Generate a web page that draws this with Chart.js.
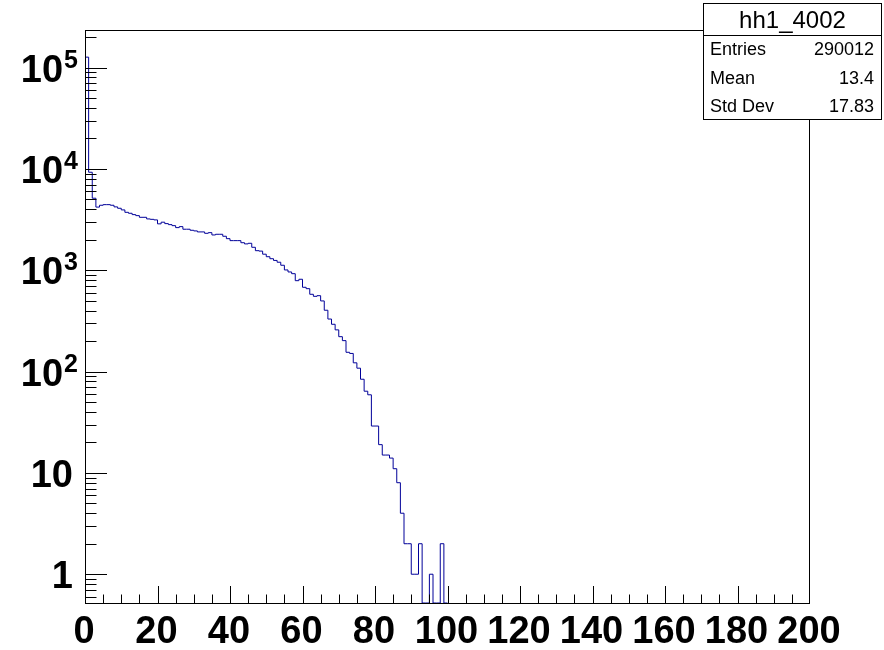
<!DOCTYPE html>
<html>
<head>
<meta charset="utf-8">
<title>hh1_4002</title>
<script src="https://cdn.jsdelivr.net/npm/chart.js@4"></script>
<style>
  html, body { margin: 0; padding: 0; background: #fff; }
  #wrap { width: 884px; height: 650px; }
</style>
</head>
<body>
<div id="wrap"><canvas id="grafico" width="884" height="650"></canvas></div>
<script>
// histograma hh1_4002: bins de largura 1 entre 0 e 200 (de 100 em diante estão vazios)
const binCounts = [
  126800, 9270, 5140, 4200, 4380, 4440, 4440, 4380, 4220, 4090,
  3940, 3730, 3650, 3540, 3460, 3330, 3330, 3210, 3180, 3140,
  2870, 2980, 2885, 2820, 2755, 2635, 2695, 2540, 2540, 2480,
  2445, 2390, 2390, 2315, 2350, 2230, 2265, 2265, 2165, 2050,
  1960, 1960, 1960, 1870, 1820, 1845, 1685, 1560, 1545, 1440,
  1360, 1300, 1250, 1200, 1120, 1007, 962, 925, 789, 815,
  679, 658, 579, 553, 561, 498, 403, 330, 293, 258,
  221, 202, 155, 151, 122, 108, 84, 64, 59, 29,
  29, 19, 15, 15, 14, 11, 8, 4, 2, 2,
  1, 1, 2, 0, 0, 1, 0, 0, 2, 0
];
const xRange = [0, 200];
const yRange = [0.52, 235000];
const xTickLabels = ["0", "20", "40", "60", "80", "100", "120", "140", "160", "180", "200"];
const yTickValues = [1, 10, 100, 1000, 10000, 100000];
const yTickLabels = ["1", "10", "10^2", "10^3", "10^4", "10^5"];
const statsTitle = "hh1_4002";
const statsNames = ["Entries", "Mean", "Std Dev"];
const statsValues = ["290012", "13.4", "17.83"];

const corLinha = "#000099";
const fonte = '"Liberation Sans", Arial, sans-serif';

// monta o contorno em degraus (bins vazios vão para o chão do eixo log)
const chao = yRange[0];
const pontos = [{ x: 0, y: chao }];
binCounts.forEach((c, i) => pontos.push({ x: i, y: c > 0 ? c : chao }));
pontos.push({ x: binCounts.length, y: chao });

// desenha moldura, marcas, rótulos e caixa de estatística no estilo do ROOT
const estiloRoot = {
  id: "estiloRoot",
  afterDraw(chart) {
    const ctx = chart.ctx;
    const xs = chart.scales.x;
    const ys = chart.scales.y;
    const a = chart.chartArea;
    const esq = Math.round(a.left) + 0.5;
    const dir = Math.round(a.right) - 0.5;
    ctx.save();
    ctx.strokeStyle = "#000";
    ctx.lineWidth = 1;

    // moldura
    ctx.strokeRect(esq, Math.round(a.top) + 0.5, dir - esq, Math.round(a.bottom - a.top));

    // marcas do eixo x (primárias a cada 20, secundárias a cada 5)
    ctx.beginPath();
    for (let v = xRange[0] + 5; v < xRange[1]; v += 5) {
      const px = Math.round(xs.getPixelForValue(v)) + 0.5;
      const len = v % 20 === 0 ? 17 : 8.5;
      ctx.moveTo(px, a.bottom);
      ctx.lineTo(px, a.bottom - len);
    }
    // marcas do eixo y (décadas e 2..9)
    for (let d = -1; d <= 5; d++) {
      for (let k = 1; k <= 9; k++) {
        const v = k * Math.pow(10, d);
        if (v < yRange[0] || v > yRange[1]) continue;
        const py = Math.round(ys.getPixelForValue(v)) + 0.5;
        const len = k === 1 ? 21.5 : 11;
        ctx.moveTo(esq, py);
        ctx.lineTo(esq + len, py);
      }
    }
    ctx.stroke();

    // rótulos do eixo x
    ctx.fillStyle = "#000";
    ctx.font = "bold 38px " + fonte;
    ctx.textAlign = "center";
    ctx.textBaseline = "alphabetic";
    xTickLabels.forEach(t => {
      ctx.fillText(t, xs.getPixelForValue(Number(t)) - 1, 643);
    });

    // rótulos do eixo y com expoente
    yTickLabels.forEach((t, i) => {
      const py = ys.getPixelForValue(yTickValues[i]) + 14;
      const [base, expo] = t.split("^");
      if (!expo) {
        ctx.font = "bold 38px " + fonte;
        ctx.textAlign = "right";
        ctx.fillText(base, 73, py);
        return;
      }
      ctx.font = "bold 25px " + fonte;
      ctx.textAlign = "right";
      ctx.fillText(expo, 78, py - 14);
      const wExp = ctx.measureText(expo).width;
      ctx.font = "bold 38px " + fonte;
      ctx.fillText(base, 78 - wExp - 1, py);
    });

    // caixa de estatística
    const bx = 703.5, by = 3.5, bw = 178, bh = 116;
    ctx.fillStyle = "#fff";
    ctx.fillRect(bx, by, bw, bh);
    ctx.strokeRect(bx, by, bw, bh);
    ctx.beginPath();
    ctx.moveTo(bx, 35.5);
    ctx.lineTo(bx + bw, 35.5);
    ctx.stroke();
    ctx.fillStyle = "#000";
    ctx.font = "24px " + fonte;
    ctx.textAlign = "center";
    ctx.fillText(statsTitle, bx + bw / 2, 28);
    ctx.font = "18px " + fonte;
    statsNames.forEach((n, i) => {
      const yb = 55 + i * 28.5;
      ctx.textAlign = "left";
      ctx.fillText(n, 710, yb);
      ctx.textAlign = "right";
      ctx.fillText(statsValues[i], 874, yb);
    });
    ctx.restore();
  }
};

new Chart(document.getElementById("grafico"), {
  type: "line",
  data: {
    datasets: [{
      label: statsTitle,
      data: pontos,
      stepped: "before",
      borderColor: corLinha,
      borderWidth: 1,
      pointRadius: 0,
      fill: false
    }]
  },
  options: {
    responsive: false,
    animation: false,
    layout: { padding: { left: 85, top: 30, right: 74, bottom: 47 } },
    plugins: {
      legend: { display: false },
      tooltip: { enabled: false }
    },
    scales: {
      x: { type: "linear", min: xRange[0], max: xRange[1], display: false },
      y: { type: "logarithmic", min: yRange[0], max: yRange[1], display: false }
    }
  },
  plugins: [estiloRoot]
});
</script>
</body>
</html>
